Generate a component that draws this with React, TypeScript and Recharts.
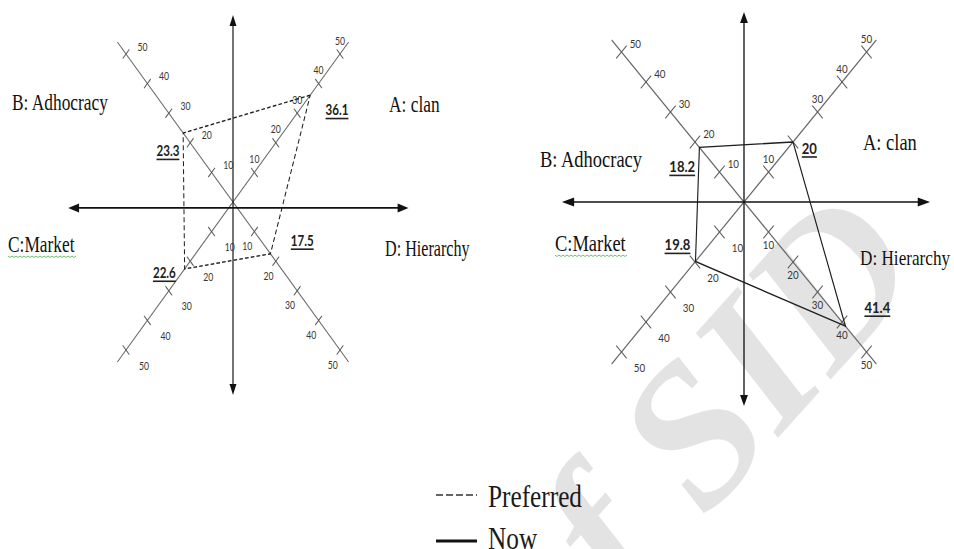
import React from 'react';
import { ScatterChart, Scatter, XAxis, YAxis, ReferenceLine } from 'recharts';

// culture types, in the order A, B, C, D
const cultures = ['A', 'B', 'C', 'D'];
const cultureNames = ['A: clan', 'B: Adhocracy', 'C:Market', 'D: Hierarchy'];
const tickValues = [10, 20, 30, 40, 50];
const preferredValues = [36.1, 23.3, 22.6, 17.5];
const nowValues = [20, 18.2, 19.8, 41.4];
const legendLabels = ['Preferred', 'Now'];
const axisEnd = 54;

// quadrant of each culture axis (sign of x, sign of y)
const quadrant: Record<string, [number, number]> = { A: [1, 1], B: [-1, 1], C: [-1, -1], D: [1, -1] };

const LEFT = {
  k: 0.723, u: 2.96, cx: 233, cy: 202, left: 0, width: 660, height: 430,
  hAxis: [-77, 82], hAxisY: -2, vAxis: [63.2, -65.2], tickLen: 13,
  tickOff: { A: [0, -14], B: [23, -8], C: [25, 15], D: [-10, 14] } as any,
  valueOff: { A: [37, 14], B: [-21, 17], C: [-28, 3], D: [44, -14] } as any,
  hiddenLabels: [] as string[],
  font: 24,
  catPos: [[389, 112], [12, 110], [8, 252], [385, 256]],
};
const RIGHT = {
  k: 0.817, u: 3.0, cx: 744, cy: 202, left: 477, width: 584, height: 430,
  hAxis: [-74.3, 75.9], hAxisY: 0, vAxis: [63.3, -68], tickLen: 18,
  tickOff: { A: [0, -14], B: [17, -9], C: [22, 15], D: [0, 12] } as any,
  valueOff: { A: [20, 6], B: [-21, 19], C: [-22, -17], D: [39, -19] } as any,
  hiddenLabels: ['A20'],
  font: 22.6,
  catPos: [[863, 150], [540, 167], [555, 251], [860, 265]],
};

const serif = '"Liberation Serif", "Times New Roman", serif';
const sans = 'Lato, "Open Sans", sans-serif';

const makeArrow = (L: number, W: number) => (p: any) => {
  const { x1, y1, x2, y2 } = p;
  const dx = x2 - x1, dy = y2 - y1, len = Math.hypot(dx, dy) || 1;
  const ux = dx / len, uy = dy / len, nx = -uy, ny = ux;
  const head = (tx: number, ty: number, sx: number, sy: number) =>
    `M${tx},${ty} L${tx - sx * L + nx * W},${ty - sy * L + ny * W} L${tx - sx * L - nx * W},${ty - sy * L - ny * W} Z`;
  return (
    <g>
      <line x1={x1 + ux * 4} y1={y1 + uy * 4} x2={x2 - ux * 4} y2={y2 - uy * 4} stroke="#111" strokeWidth={1.6} />
      <path d={head(x2, y2, ux, uy)} fill="#111" />
      <path d={head(x1, y1, -ux, -uy)} fill="#111" />
    </g>
  );
};

function Diagram({ cfg, values, dashed }: { cfg: any; values: number[]; dashed: boolean }) {
  const cxInt = (cfg.cx - cfg.left) / cfg.k;
  const xDomain = [-cxInt / cfg.u, (cfg.width - cxInt) / cfg.u];
  const yDomain = [-(cfg.height - cfg.cy) / cfg.u, cfg.cy / cfg.u];

  const ticks = cultures.flatMap((c) =>
    tickValues.map((v) => ({ x: quadrant[c][0] * v, y: quadrant[c][1] * v, v, c }))
  );
  const vertices = cultures.map((c, i) => ({
    x: quadrant[c][0] * values[i], y: quadrant[c][1] * values[i], v: values[i], c,
  }));
  const ring = [...vertices, vertices[0]];

  const tickShape = (p: any) => {
    const { cx, cy, payload } = p;
    const [sx, sy] = quadrant[payload.c];
    const h = cfg.tickLen / 2 / Math.SQRT2;
    const off = cfg.tickOff[payload.c];
    const showLabel = !cfg.hiddenLabels.includes(`${payload.c}${payload.v}`);
    return (
      <g>
        <line x1={cx - sy * h} y1={cy - sx * h} x2={cx + sy * h} y2={cy + sx * h} stroke="#555" strokeWidth={1.2} />
        {showLabel && (
          <text x={cx + off[0]} y={cy + off[1]} textAnchor="middle" dominantBaseline="central"
            fontFamily={sans} fontSize={12} fill="#3a3632">{payload.v}</text>
        )}
      </g>
    );
  };

  const valueShape = (p: any) => {
    const { cx, cy, payload } = p;
    const off = cfg.valueOff[payload.c];
    return (
      <text x={cx + off[0]} y={cy + off[1]} textAnchor="middle" dominantBaseline="central"
        fontFamily={sans} fontWeight="bold" fontSize={16} fill="#222" textDecoration="underline">
        {payload.v}
      </text>
    );
  };

  return (
    <div style={{
      position: 'absolute', left: cfg.left, top: 0, width: cfg.width, height: cfg.height,
      transform: `scaleX(${cfg.k})`, transformOrigin: '0 0',
    }}>
      <ScatterChart width={cfg.width} height={cfg.height} margin={{ top: 0, right: 0, bottom: 0, left: 0 }}>
        <XAxis type="number" dataKey="x" domain={xDomain} hide allowDataOverflow />
        <YAxis type="number" dataKey="y" domain={yDomain} hide allowDataOverflow />
        <ReferenceLine segment={[{ x: -axisEnd, y: axisEnd }, { x: axisEnd, y: -axisEnd }]} stroke="#666" strokeWidth={1.3} />
        <ReferenceLine segment={[{ x: axisEnd, y: axisEnd }, { x: -axisEnd, y: -axisEnd }]} stroke="#666" strokeWidth={1.3} />
        <ReferenceLine segment={[{ x: cfg.hAxis[0], y: cfg.hAxisY }, { x: cfg.hAxis[1], y: cfg.hAxisY }]} shape={makeArrow(15, 4.5)} />
        <ReferenceLine segment={[{ x: 0, y: cfg.vAxis[0] }, { x: 0, y: cfg.vAxis[1] }]} shape={makeArrow(11, 4.8)} />
        <Scatter data={ticks} isAnimationActive={false} shape={tickShape} />
        <Scatter data={ring} isAnimationActive={false} shape={() => <g />} lineType="joint"
          line={{ stroke: '#1e1e1e', strokeWidth: 1.4, strokeDasharray: dashed ? '5 3' : undefined }} />
        <Scatter data={vertices} isAnimationActive={false} shape={valueShape} />
      </ScatterChart>
    </div>
  );
}

function Labels() {
  const squiggle = (x0: number, x1: number, y: number) => {
    let d = `M${x0},${y}`;
    for (let x = x0, i = 0; x < x1; x += 2, i++) d += ` L${x + 2},${y + (i % 2 ? 0 : 1.5)}`;
    return <path d={d} stroke="#5cb85c" strokeWidth={0.9} fill="none" />;
  };
  return (
    <svg width={954} height={549} style={{ position: 'absolute', left: 0, top: 0 }}>
      {[LEFT, RIGHT].map((cfg, di) =>
        cultureNames.map((name, i) => (
          <text key={`${di}-${i}`} transform={`translate(${cfg.catPos[i][0]},${cfg.catPos[i][1]}) scale(${cfg.k},1)`}
            fontFamily={serif} fontSize={i === 3 ? cfg.font * 0.93 : cfg.font} fill="#111">{name}</text>
        ))
      )}
      {squiggle(8, 76, 256)}
      {squiggle(555, 626, 255)}
      <line x1={436} y1={495} x2={477} y2={495} stroke="#333" strokeWidth={1.5} strokeDasharray="7 3" />
      <text transform="translate(488,507) scale(0.79,1)" fontFamily={serif} fontSize={32} fill="#1a1a1a">{legendLabels[0]}</text>
      <line x1={436} y1={541} x2={477} y2={541} stroke="#111" strokeWidth={3} />
      <text transform="translate(488,549) scale(0.79,1)" fontFamily={serif} fontSize={32} fill="#1a1a1a">{legendLabels[1]}</text>
    </svg>
  );
}

export default function App() {
  return (
    <div style={{ position: 'absolute', left: 0, top: 0, width: 954, height: 549, overflow: 'hidden', background: '#fff' }}>
      <svg width={954} height={549} style={{ position: 'absolute', left: 0, top: 0 }}>
        <text transform="translate(560,680) rotate(-48)" fontFamily={serif} fontStyle="italic" fontWeight="bold"
          fontSize={200} fill="#e3e3e3">
          of SID
        </text>
      </svg>
      <Diagram cfg={LEFT} values={preferredValues} dashed />
      <Diagram cfg={RIGHT} values={nowValues} dashed={false} />
      <Labels />
    </div>
  );
}
